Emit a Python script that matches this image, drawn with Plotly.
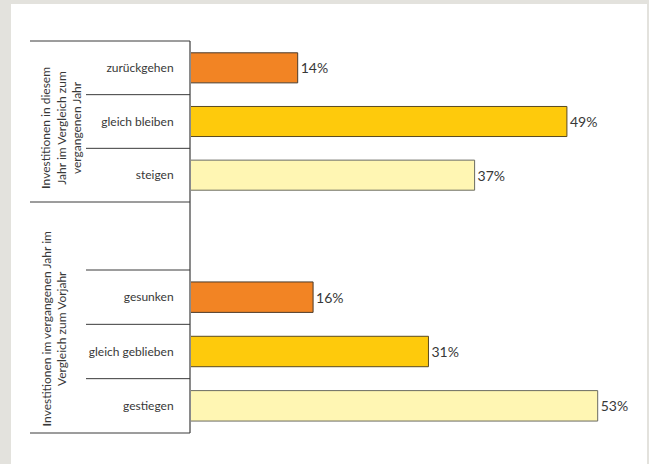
import plotly.graph_objects as go

# ---- data ----
group1_title = "<b>I</b>nvestitionen in diesem<br>Jahr im Vergleich zum<br>vergangenen Jahr"
group1_categories = ["zurückgehen", "gleich bleiben", "steigen"]
group1_values = [14, 49, 37]

group2_title = "<b>I</b>nvestitionen im vergangenen Jahr im<br>Vergleich zum Vorjahr"
group2_categories = ["gesunken", "gleich geblieben", "gestiegen"]
group2_values = [16, 31, 53]

bar_colors = ["#F28424", "#FECA0C", "#FFF6B3"]
bar_lines = ["#4a3a2a", "#5a4a20", "#6a6a60"]

W, H = 649, 464
L, R, T, B = 190, 9, 41, 31
PW, PH = W - L - R, H - T - B

def px(x):
    return (x - L) / PW

def py(y):
    return (H - B - y) / PH

dom1 = [py(202), 1.0]
dom2 = [0.0, py(270)]

FONT = "Lato, 'Open Sans', sans-serif"
TXT = "#383838"

fig = go.Figure()
fig.add_trace(go.Bar(
    x=group1_values, y=group1_categories, orientation="h",
    xaxis="x", yaxis="y", width=0.56,
    marker=dict(color=bar_colors, line=dict(color=bar_lines, width=1)),
    texttemplate="%{x}%", textposition="outside", cliponaxis=False,
    textfont=dict(family=FONT, size=14, color=TXT), hoverinfo="skip",
))
fig.add_trace(go.Bar(
    x=group2_values, y=group2_categories, orientation="h",
    xaxis="x", yaxis="y2", width=0.56,
    marker=dict(color=bar_colors, line=dict(color=bar_lines, width=1)),
    texttemplate="%{x}%", textposition="outside", cliponaxis=False,
    textfont=dict(family=FONT, size=14, color=TXT), hoverinfo="skip",
))

yax = dict(type="category", autorange="reversed", showgrid=False, zeroline=False,
           showline=False, ticks="outside", ticklen=13, tickcolor="rgba(0,0,0,0)",
           tickfont=dict(family=FONT, size=12, color=TXT), anchor="x")

shapes = []
# white panel on gray background
shapes.append(dict(type="rect", xref="paper", yref="paper", layer="below",
                   x0=px(11), x1=px(647), y0=py(470), y1=py(4),
                   fillcolor="white", line=dict(width=0)))
# vertical axis line
shapes.append(dict(type="line", xref="paper", yref="paper",
                   x0=0, x1=0, y0=0, y1=1, line=dict(color="#8a8a8a", width=2)))
# separators
for yref, long_ks in (("y domain", (0, 3)), ("y2 domain", (3,))):
    for k in range(4):
        shapes.append(dict(type="line", xref="paper", yref=yref,
                           x0=px(30) if k in long_ks else px(86), x1=0,
                           y0=1 - k / 3, y1=1 - k / 3,
                           line=dict(color="#3a3a3a", width=1)))

annotations = [
    dict(text=group1_title, textangle=-90, xref="paper", yref="paper",
         x=px(61), y=py(128), xanchor="center", yanchor="middle", showarrow=False,
         align="center", font=dict(family=FONT, size=12, color=TXT)),
    dict(text=group2_title, textangle=-90, xref="paper", yref="paper",
         x=px(53.5), y=py(329), xanchor="center", yanchor="middle", showarrow=False,
         align="center", font=dict(family=FONT, size=12, color=TXT)),
]

fig.update_layout(
    width=W, height=H,
    margin=dict(l=L, r=R, t=T, b=B, pad=0),
    paper_bgcolor="#E3E2DD", plot_bgcolor="rgba(0,0,0,0)",
    showlegend=False, barmode="overlay",
    xaxis=dict(range=[0, 58.5], visible=False, fixedrange=True),
    yaxis=dict(domain=dom1, fixedrange=True, **yax),
    yaxis2=dict(domain=dom2, fixedrange=True, **yax),
    shapes=shapes, annotations=annotations,
    font=dict(family=FONT, color=TXT),
)

fig.write_html("out.html", config={"displayModeBar": False, "staticPlot": True},
               post_script="document.body.style.margin='0';document.body.style.overflow='hidden';")
